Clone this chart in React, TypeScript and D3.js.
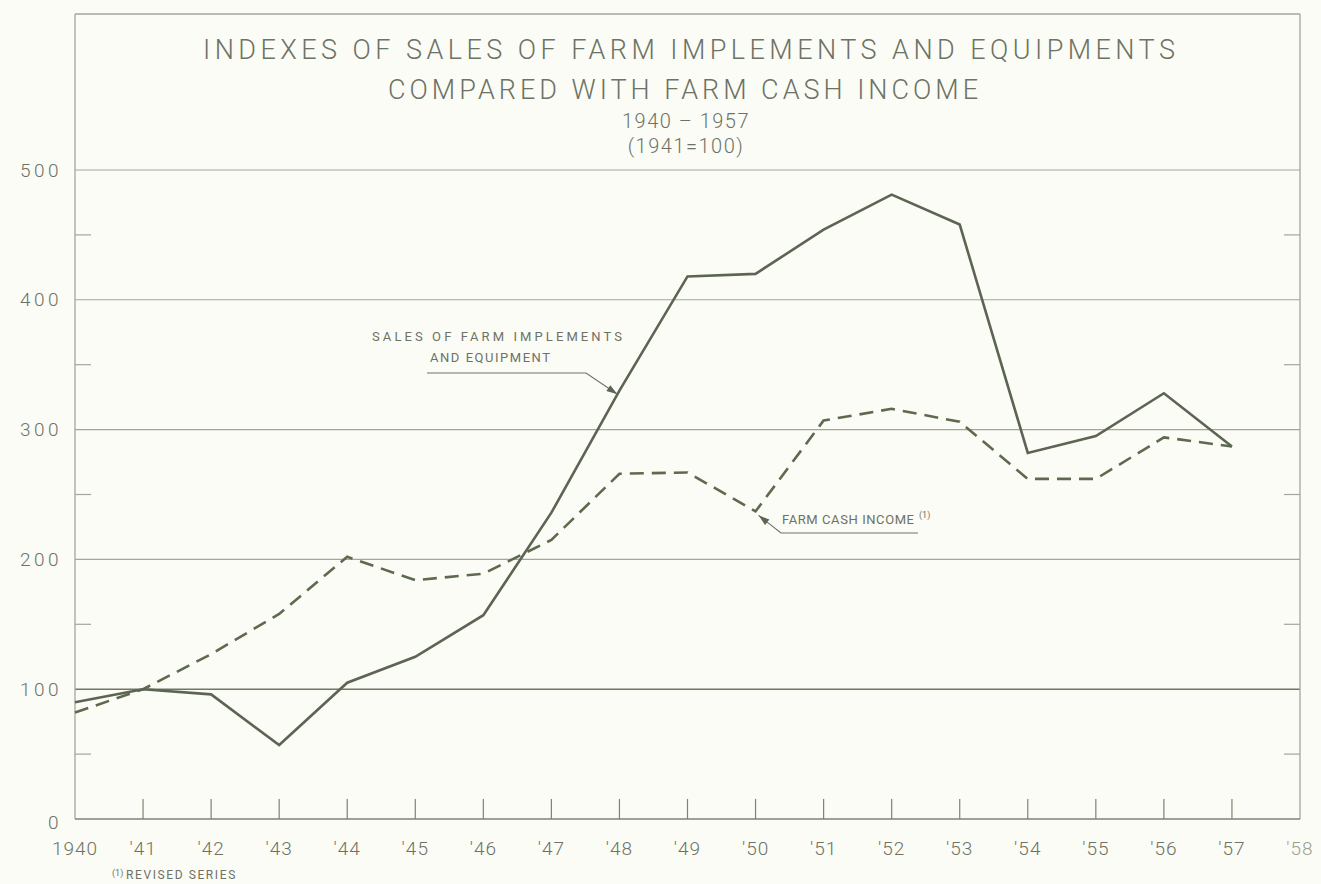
import React from 'react';
import * as d3 from 'd3';

// Index values (1941 = 100)
const years = [1940, 1941, 1942, 1943, 1944, 1945, 1946, 1947, 1948, 1949, 1950, 1951, 1952, 1953, 1954, 1955, 1956, 1957];
const salesIndex = [90, 100, 96, 57, 105, 125, 157, 236, 330, 418, 420, 454, 481, 458, 282, 295, 328, 287];
const farmIncomeIndex = [82, 100, 127, 158, 202, 184, 189, 215, 266, 267, 237, 307, 316, 306, 262, 262, 294, 287];

const yTicks = [0, 100, 200, 300, 400, 500];
const yMinorTicks = [50, 150, 250, 350, 450];
const xTickYears = [1941, 1942, 1943, 1944, 1945, 1946, 1947, 1948, 1949, 1950, 1951, 1952, 1953, 1954, 1955, 1956, 1957];
const xLabels = ['1940', "'41", "'42", "'43", "'44", "'45", "'46", "'47", "'48", "'49", "'50", "'51", "'52", "'53", "'54", "'55", "'56", "'57", "'58"];

const W = 1321;
const H = 884;
const frame = { left: 75, right: 1300, top: 14, bottom: 819 };

const INK = '#5c6553';
const TEXT = '#6d7266';
const GRID = '#a2a79a';
const FONT = 'Roboto, "Liberation Sans", Arial, sans-serif';

const App: React.FC = () => {
  const x = d3.scaleLinear().domain([1940, 1958]).range([frame.left, frame.right]);
  const y = d3.scaleLinear().domain([0, 500]).range([frame.bottom, 170]);

  const line = d3
    .line<number>()
    .x((_, i) => x(years[i]))
    .y((d) => y(d));

  // small filled arrowhead pointing at (tipX, tipY)
  const arrow = (tipX: number, tipY: number, fromX: number, fromY: number) => {
    const ang = Math.atan2(tipY - fromY, tipX - fromX);
    const len = 11;
    const half = 3.5;
    const bx = tipX - len * Math.cos(ang);
    const by = tipY - len * Math.sin(ang);
    const px = -Math.sin(ang) * half;
    const py = Math.cos(ang) * half;
    return `M${tipX},${tipY}L${bx + px},${by + py}L${bx - px},${by - py}Z`;
  };

  // leader to the sales line, on the 1947-48 segment
  const salesTipX = x(1948) - 2;
  const sTipY = y(salesIndex[7]) + ((y(salesIndex[8]) - y(salesIndex[7])) * (salesTipX - x(1947))) / (x(1948) - x(1947));

  const farmTipX = x(1950) + 3;
  const farmTipY = y(farmIncomeIndex[10]) + 4;

  return (
    <div style={{ position: 'absolute', left: 0, top: 0, width: W, height: H, background: '#fbfcf5' }}>
      <svg width={W} height={H} style={{ display: 'block' }}>
        <rect x={0} y={0} width={W} height={H} fill="#fbfcf5" />

        {/* gridlines */}
        {yTicks.filter((t) => t > 0).map((t) => (
          <line
            key={t}
            x1={frame.left}
            x2={frame.right}
            y1={y(t)}
            y2={y(t)}
            stroke={t === 100 ? '#6f7765' : GRID}
            strokeWidth={t === 100 ? 1.6 : 1.1}
          />
        ))}

        {/* frame */}
        <line x1={frame.left} x2={frame.right} y1={frame.top} y2={frame.top} stroke={GRID} strokeWidth={1.5} />
        <line x1={frame.left} x2={frame.left} y1={frame.top} y2={frame.bottom} stroke={GRID} strokeWidth={1.3} />
        <line x1={frame.right} x2={frame.right} y1={frame.top} y2={frame.bottom} stroke={GRID} strokeWidth={1.3} />
        <line x1={frame.left} x2={frame.right} y1={frame.bottom} y2={frame.bottom} stroke="#7d8474" strokeWidth={1.5} />

        {/* minor y ticks, both sides */}
        {yMinorTicks.map((t) => (
          <g key={t}>
            <line x1={frame.left} x2={frame.left + 16} y1={y(t)} y2={y(t)} stroke={GRID} strokeWidth={1.2} />
            <line x1={frame.right - 16} x2={frame.right} y1={y(t)} y2={y(t)} stroke={GRID} strokeWidth={1.2} />
          </g>
        ))}

        {/* x ticks */}
        {xTickYears.map((yr) => (
          <line key={yr} x1={x(yr)} x2={x(yr)} y1={frame.bottom} y2={frame.bottom - 20} stroke="#7d8474" strokeWidth={1.2} />
        ))}

        {/* y labels */}
        {yTicks.map((t) => (
          <text
            key={t}
            x={62}
            y={y(t) + (t === 0 ? 3 : 0)}
            textAnchor="end"
            dominantBaseline="central"
            fontFamily={FONT}
            fontWeight={300}
            fontSize={19}
            letterSpacing={3.5}
            fill={TEXT}
          >
            {t}
          </text>
        ))}

        {/* x labels */}
        {xLabels.map((lab, i) => (
          <text
            key={lab}
            x={x(1940 + i)}
            y={855}
            textAnchor="middle"
            fontFamily={FONT}
            fontWeight={300}
            fontSize={19}
            letterSpacing={1}
            fill={i === 18 ? '#9a9f92' : TEXT}
          >
            {lab}
          </text>
        ))}

        {/* footnote */}
        <text x={112} y={876} fontFamily={FONT} fontSize={9} fill={TEXT}>(1)</text>
        <text x={126} y={879} fontFamily={FONT} fontSize={12} letterSpacing={1.6} fill={TEXT}>
          REVISED SERIES
        </text>

        {/* title */}
        <text x={689} y={59} textAnchor="middle" fontFamily={FONT} fontWeight={300} fontSize={27} fill={TEXT} textLength={972} lengthAdjust="spacing">
          INDEXES OF SALES OF FARM IMPLEMENTS AND EQUIPMENTS
        </text>
        <text x={683} y={99} textAnchor="middle" fontFamily={FONT} fontWeight={300} fontSize={27} fill={TEXT} textLength={590} lengthAdjust="spacing">
          COMPARED WITH FARM CASH INCOME
        </text>
        <text x={686} y={128} textAnchor="middle" fontFamily={FONT} fontWeight={300} fontSize={20} fill={TEXT} letterSpacing={1.5}>
          1940 – 1957
        </text>
        <text x={686} y={153} textAnchor="middle" fontFamily={FONT} fontWeight={300} fontSize={20} fill={TEXT} letterSpacing={1.5}>
          (1941=100)
        </text>

        {/* series */}
        <path d={line(farmIncomeIndex) || ''} fill="none" stroke="#5e6a4f" strokeWidth={2.6} strokeDasharray="14 8" />
        <path d={line(salesIndex) || ''} fill="none" stroke={INK} strokeWidth={2.6} strokeLinejoin="miter" />

        {/* sales label + leader */}
        <text x={497} y={341} textAnchor="middle" fontFamily={FONT} fontSize={13} fill={TEXT} textLength={250} lengthAdjust="spacing">
          SALES OF FARM IMPLEMENTS
        </text>
        <text x={490} y={362} textAnchor="middle" fontFamily={FONT} fontSize={13} fill={TEXT} textLength={120} lengthAdjust="spacing">
          AND EQUIPMENT
        </text>
        <path d={`M427,373L586,373L${salesTipX},${sTipY}`} fill="none" stroke={TEXT} strokeWidth={1.1} />
        <path d={arrow(salesTipX, sTipY, 586, 373)} fill={INK} />

        {/* farm cash income label + leader */}
        <text x={782} y={524} fontFamily={FONT} fontSize={13} fill={TEXT} textLength={132} lengthAdjust="spacing">
          FARM CASH INCOME
        </text>
        <text x={919} y={518} fontFamily={FONT} fontSize={9} fill={TEXT}>(1)</text>
        <path d={`M918,533L781,533L${farmTipX},${farmTipY}`} fill="none" stroke={TEXT} strokeWidth={1.1} />
        <path d={arrow(farmTipX, farmTipY, 781, 533)} fill={INK} />
      </svg>
    </div>
  );
};

export default App;
